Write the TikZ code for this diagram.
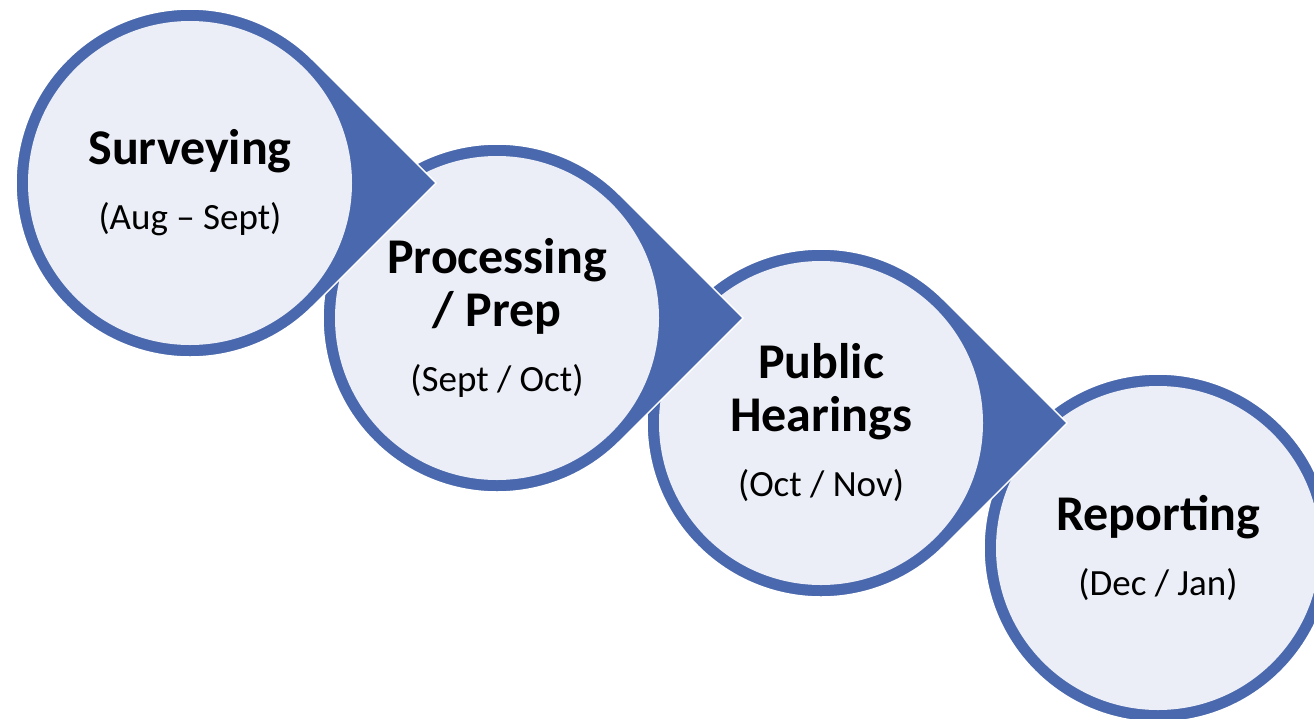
\documentclass[tikz,border=0pt]{standalone}
\usepackage{fontspec}
\setmainfont{Carlito}
\usetikzlibrary{calc}
\definecolor{stepblue}{HTML}{4A68AD}
\definecolor{steplight}{HTML}{EBEEF6}
\def\teardrop(#1)(#2:#3){\filldraw[fill=stepblue, draw=white, line width=1.5] ($(#1)+({#2*1.4142},0)$) -- ($(#1)+(45:#2)$) arc (45:315:#2) -- cycle; \fill[steplight] (#1) circle (#3);}
\newcommand\subtext[1]{{\mdseries\fontsize{37}{37}\selectfont #1}}
\tikzset{steptext/.style={align=center, inner sep=0pt, font=\fontsize{50}{53}\selectfont\bfseries}}

\begin{document}
\begin{tikzpicture}[x=1pt, y=-1pt]
			%%%%% START %%%%%
			
			\clip (0, 0) rectangle (1314, 718);
			
			\coordinate (c1) at (190, 183);
			\coordinate (c2) at (497, 318);
			\coordinate (c3) at (821, 423);
			\coordinate (c4) at (1158, 548);
			
			% last step first, so that each pointer lies on the next circle
			\filldraw[fill=stepblue, draw=white, line width=1.5] (c4) circle (174);
			\fill[steplight] (c4) circle (162);
			
			\teardrop(c3)(174:162)
			\teardrop(c2)(174:162)
			\teardrop(c1)(174:162)
			
			\node[steptext] (surveying) at (c1) {Surveying\\[12pt]\subtext{(Aug – Sept)}};
			\node[steptext] (processing) at (c2) {Processing\\/ Prep\\[12pt]\subtext{(Sept / Oct)}};
			\node[steptext] (hearings) at (c3) {Public\\Hearings\\[12pt]\subtext{(Oct / Nov)}};
			\node[steptext] (reporting) at (c4) {Reporting\\[12pt]\subtext{(Dec / Jan)}};
			
			%%%%% END %%%%%
\end{tikzpicture}
\end{document}
